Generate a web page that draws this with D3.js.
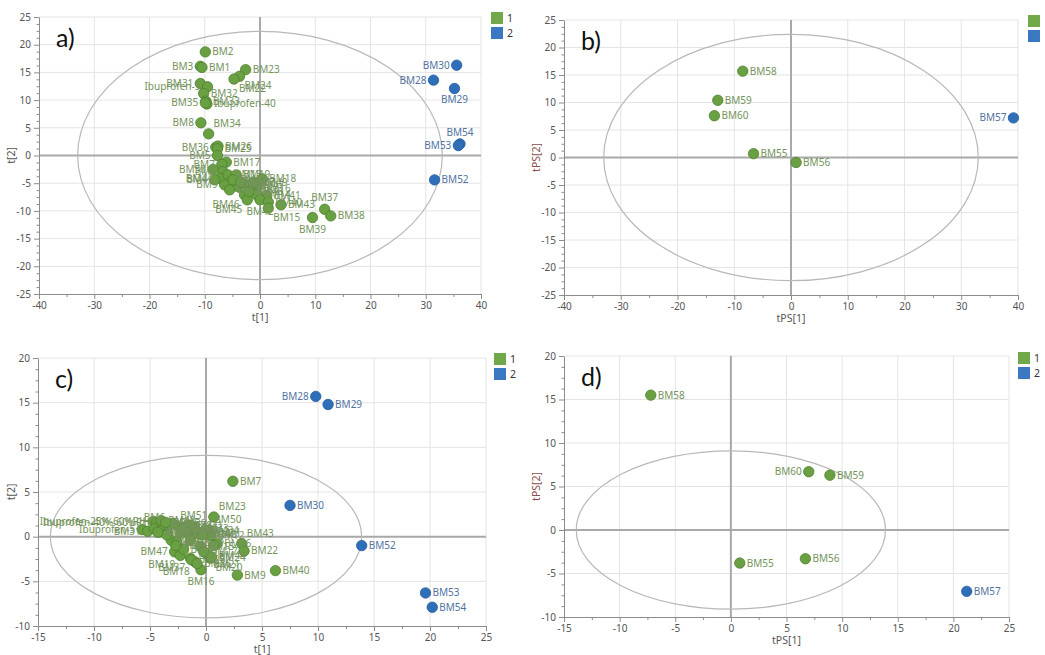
<!DOCTYPE html>
<html>
<head>
<meta charset="utf-8">
<script src="https://cdn.jsdelivr.net/npm/d3@7"></script>
<style>
body { margin: 0; background: #fff; }
svg { font-family: "Noto Sans", "Open Sans", sans-serif; }
</style>
</head>
<body>
<svg id="chart" width="1045" height="655"></svg>
<script>
// score values: [name, t1, t2, class]
const scoresA = [
    ["BM2", -9.9, 18.7, 1], ["BM3", -10.8, 16.1, 1], ["BM1", -10.5, 15.9, 1],
    ["BM23", -2.6, 15.5, 1], ["BM24", -3.7, 14.3, 1], ["BM22", -4.7, 13.8, 1],
    ["BM31", -10.8, 13.0, 1], ["Ibuprofen-5", -9.5, 12.4, 1], ["BM32", -10.2, 11.2, 1],
    ["BM33", -9.8, 9.8, 1], ["Ibuprofen-40", -9.6, 9.3, 1], ["BM35", -9.9, 9.5, 1],
    ["BM8", -10.7, 5.9, 1], ["BM34", -9.3, 3.9, 1], ["BM36", -8.0, 1.5, 1],
    ["BM26", -7.6, 1.7, 1], ["BM25", -7.7, 1.2, 1], ["BM5", -7.7, 0.0, 1],
    ["BM17", -6.1, -1.2, 1], ["BM7", -6.9, -1.6, 1], ["BM6", -6.7, -2.9, 1],
    ["BM44", -7.3, -4.1, 1], ["BM4", -8.2, -4.4, 1], ["BM13", -5.8, -3.5, 1],
    ["BM10", -5.2, -4.7, 1], ["BM19", -4.3, -3.5, 1], ["BM12", -4.0, -5.6, 1],
    ["BM11", -3.1, -5.0, 1], ["BM46", -2.8, -7.1, 1], ["BM45", -2.3, -8.0, 1],
    ["BM16", -0.6, -5.9, 1], ["BM18", 0.4, -4.2, 1], ["BM14", -0.6, -7.1, 1],
    ["BM41", 1.2, -7.2, 1], ["BM42", 0.0, -8.0, 1], ["BM40", 1.5, -8.4, 1],
    ["BM15", 1.5, -9.5, 1], ["BM43", 3.8, -8.9, 1], ["BM39", 9.5, -11.2, 1],
    ["BM37", 11.7, -9.7, 1], ["BM38", 12.8, -10.9, 1], ["BM9", -6.4, -5.3, 1],
    ["BM20", -5.5, -6.2, 1], ["BM21", -4.9, -4.4, 1], ["BM27", -3.5, -4.8, 1],
    ["BM47", -1.8, -5.4, 1], ["BM48", -2.0, -6.5, 1], ["BM49", -1.2, -4.8, 1],
    ["BM50", -8.5, -2.5, 1],
    ["BM30", 35.6, 16.3, 2], ["BM28", 31.4, 13.6, 2], ["BM29", 35.2, 12.1, 2],
    ["BM54", 36.2, 2.1, 2], ["BM53", 35.9, 1.8, 2], ["BM52", 31.6, -4.4, 2]
];

const scoresB = [
    ["BM58", -8.5, 15.7, 1], ["BM59", -12.9, 10.4, 1], ["BM60", -13.5, 7.6, 1],
    ["BM55", -6.6, 0.7, 1], ["BM56", 0.9, -0.9, 1], ["BM57", 39.2, 7.2, 2]
];

const scoresC = [
    ["BM7", 2.4, 6.2, 1], ["BM23", 0.7, 2.2, 1], ["BM43", 3.2, -0.8, 1],
    ["BM22", 3.4, -1.6, 1], ["BM40", 6.2, -3.8, 1], ["BM9", 2.8, -4.3, 1],
    ["Ibuprofen-25%-60%RH", -4.7, 1.7, 1], ["Ibuprofen-40%-60%RH", -4.4, 1.6, 1],
    ["Ibuprofen-5", -5.7, 0.8, 1], ["BM31", -5.2, 0.6, 1], ["BM6", -4.6, 0.9, 1],
    ["BM51", -1.1, 1.1, 1], ["BM50", 0.3, 0.7, 1], ["BM11", 0.1, 0.5, 1],
    ["BM12", 0.4, 0.1, 1], ["BM36", 1.0, -0.8, 1], ["BM44", 0.7, -1.0, 1],
    ["BM47", -2.8, -1.7, 1], ["BM19", -2.3, -2.1, 1], ["BM37", -1.4, -2.4, 1],
    ["BM18", -1.0, -2.8, 1], ["BM16", -0.45, -3.7, 1], ["BM21", 0.2, -2.1, 1],
    ["BM20", 0.4, -2.4, 1],
    ["BM1", -4.1, 0.55, 1], ["BM2", -3.8, 1.3, 1], ["BM3", -3.4, 0.4, 1],
    ["BM4", -3.1, -0.4, 1], ["BM5", -2.6, -0.6, 1], ["BM8", -2.2, 0.4, 1],
    ["BM10", -1.7, 0.55, 1], ["BM13", -1.4, -0.4, 1], ["BM14", -0.8, 0.4, 1],
    ["BM15", -0.5, -1.1, 1], ["BM17", -0.2, -1.7, 1], ["BM24", 0.5, -2.3, 1],
    ["BM25", -1.3, -2.6, 1], ["BM26", -0.8, -3.0, 1], ["BM27", -3.5, 0.2, 1],
    ["BM32", -4.3, 0.5, 1], ["BM33", -1.0, 0.9, 1], ["BM34", -0.1, 0.7, 1],
    ["BM35", -2.0, -1.4, 1], ["BM38", -2.5, 1.2, 1], ["BM39", -3.0, 1.5, 1],
    ["BM41", -1.5, 1.3, 1], ["BM42", -4.0, 1.8, 1], ["BM45", -3.6, 1.6, 1],
    ["BM46", -2.0, 0.9, 1], ["BM48", -0.3, 0.2, 1], ["BM49", -2.7, -1.0, 1],
    ["BM28", 9.8, 15.7, 2], ["BM29", 10.9, 14.8, 2], ["BM30", 7.5, 3.5, 2],
    ["BM52", 13.9, -1.0, 2], ["BM53", 19.6, -6.3, 2], ["BM54", 20.2, -7.9, 2]
];

const scoresD = [
    ["BM58", -7.2, 15.5, 1], ["BM60", 7.0, 6.7, 1], ["BM59", 8.9, 6.3, 1],
    ["BM55", 0.8, -3.8, 1], ["BM56", 6.7, -3.3, 1], ["BM57", 21.2, -7.05, 2]
];

// axis ticks
const ticksWide = [-40, -30, -20, -10, 0, 10, 20, 30, 40];
const ticksWideY = [-25, -20, -15, -10, -5, 0, 5, 10, 15, 20, 25];
const ticksNarrow = [-15, -10, -5, 0, 5, 10, 15, 20, 25];
const ticksNarrowY = [-10, -5, 0, 5, 10, 15, 20];

// Hotelling T2 ellipse semi-axes
const ellipseAB = [33, 22.4];
const ellipseCD = [13.9, 9.1];

const classes = ["1", "2"];

// where the label goes, relative to its point (default: right)
const sidesA = { BM3: "l", BM31: "l", "Ibuprofen-5": "l", BM35: "l", BM8: "l", BM36: "l",
    BM5: "l", BM44: "l", BM4: "l", BM9: "l", BM50: "l", BM6: "l", BM7: "l", BM34: "tr",
    BM24: "br", BM22: "br", BM15: "br", BM39: "b", BM37: "t", BM45: "bl", BM46: "bl",
    BM42: "b", BM30: "l", BM28: "l", BM29: "b", BM54: "t", BM53: "l" };
const sidesB = { BM57: "l" };
const sidesC = { BM28: "l", BM23: "tr", BM43: "tr", BM6: "t", BM51: "t", BM47: "l",
    BM19: "bl", BM37: "bl", BM18: "bl", BM16: "b", BM21: "br", BM20: "br", BM44: "br",
    "Ibuprofen-25%-60%RH": "l", "Ibuprofen-40%-60%RH": "l", "Ibuprofen-5": "l", BM31: "l",
    BM50: "tr" };
const sidesD = { BM60: "l" };

const offsets = {
    r: [7, 3.5, "start"], l: [-7, 3.5, "end"], t: [0, -8, "middle"], b: [0, 15, "middle"],
    tr: [5, -7, "start"], br: [5, 13, "start"], bl: [-5, 13, "end"]
};

const dotFill = { 1: "#69a041", 2: "#2f6fba" };
const dotStroke = { 1: "#4f8030", 2: "#215a9c" };
const labelColor = { 1: "#74935c", 2: "#52739f" };
const legendFill = ["#70a84a", "#3a78c2"];

const svg = d3.select("#chart");

function drawPanel(p) {
    const x = d3.scaleLinear().domain(d3.extent(p.xTicks)).range([p.left, p.right]);
    const y = d3.scaleLinear().domain(d3.extent(p.yTicks)).range([p.bottom, p.top]);
    const g = svg.append("g");

    // grid
    g.append("g").selectAll("line").data(p.xTicks.slice(1)).join("line")
        .attr("x1", d => x(d)).attr("x2", d => x(d))
        .attr("y1", p.top).attr("y2", p.bottom)
        .attr("stroke", "#e4e4e4");
    g.append("g").selectAll("line").data(p.yTicks.slice(1)).join("line")
        .attr("y1", d => y(d)).attr("y2", d => y(d))
        .attr("x1", p.left).attr("x2", p.right)
        .attr("stroke", "#e4e4e4");

    // zero lines
    g.append("line").attr("x1", p.left).attr("x2", p.right)
        .attr("y1", y(0)).attr("y2", y(0))
        .attr("stroke", "#a9a9a9").attr("stroke-width", 2);
    g.append("line").attr("x1", x(0)).attr("x2", x(0))
        .attr("y1", p.top).attr("y2", p.bottom)
        .attr("stroke", "#a9a9a9").attr("stroke-width", 2);

    // ellipse
    g.append("ellipse")
        .attr("cx", x(0)).attr("cy", y(0))
        .attr("rx", x(p.ellipse[0]) - x(0))
        .attr("ry", y(0) - y(p.ellipse[1]))
        .attr("fill", "none").attr("stroke", "#b8b8b8").attr("stroke-width", 1.2);

    // axes, with minor ticks in between
    const stepX = p.xTicks[1] - p.xTicks[0];
    const stepY = p.yTicks[1] - p.yTicks[0];
    const minorX = p.xTicks.slice(1).map(d => d - stepX / 2);
    const minorY = [];
    p.yTicks.slice(1).forEach(d => { minorY.push(d - stepY / 4, d - stepY / 2, d - 3 * stepY / 4); });
    const plain = d => String(d);   // hyphen minus, like the original software

    const xg = g.append("g").attr("transform", `translate(0,${p.bottom})`)
        .call(d3.axisBottom(x).tickValues(p.xTicks).tickFormat(plain)
            .tickSize(5).tickSizeOuter(0).tickPadding(3));
    g.append("g").attr("transform", `translate(0,${p.bottom})`)
        .call(d3.axisBottom(x).tickValues(minorX).tickSize(3).tickSizeOuter(0).tickFormat(""))
        .select(".domain").remove();
    const yg = g.append("g").attr("transform", `translate(${p.left},0)`)
        .call(d3.axisLeft(y).tickValues(p.yTicks).tickFormat(plain)
            .tickSize(5).tickSizeOuter(0).tickPadding(3));
    g.append("g").attr("transform", `translate(${p.left},0)`)
        .call(d3.axisLeft(y).tickValues(minorY).tickSize(2.5).tickSizeOuter(0).tickFormat(""))
        .select(".domain").remove();

    g.selectAll(".domain").attr("stroke", "#8c8c8c");
    g.selectAll(".tick line").attr("stroke", "#8c8c8c");
    [xg, yg].forEach(a => a.selectAll("text")
        .attr("fill", "#555").attr("font-size", 10)
        .attr("font-family", '"Noto Sans", sans-serif'));

    // axis titles
    g.append("text").attr("x", (p.left + p.right) / 2).attr("y", p.bottom + 27)
        .attr("text-anchor", "middle").attr("font-size", 10.5).attr("fill", "#555")
        .text(p.xLabel);
    g.append("text")
        .attr("transform", `translate(${p.yLabelX},${(p.top + p.bottom) / 2}) rotate(-90)`)
        .attr("text-anchor", "middle").attr("font-size", 10.5).attr("fill", p.yLabelColor)
        .text(p.yLabel);

    // panel letter
    g.append("text").attr("x", p.left + 17).attr("y", p.top + 30)
        .attr("font-family", "Lato, 'Open Sans', sans-serif").attr("font-size", 25)
        .attr("fill", "#111").text(p.letter);

    // points
    g.append("g").selectAll("circle").data(p.scores).join("circle")
        .attr("cx", d => x(d[1])).attr("cy", d => y(d[2])).attr("r", 5.2)
        .attr("fill", d => dotFill[d[3]]).attr("stroke", d => dotStroke[d[3]])
        .attr("stroke-width", 0.8);

    // labels
    g.append("g").selectAll("text").data(p.scores).join("text")
        .each(function(d) {
            const o = offsets[p.sides[d[0]] || "r"];
            d3.select(this)
                .attr("x", x(d[1]) + o[0]).attr("y", y(d[2]) + o[1])
                .attr("text-anchor", o[2]);
        })
        .attr("font-size", 10).attr("fill", d => labelColor[d[3]])
        .text(d => d[0]);

    // legend (panel b's is cropped at the right edge, as in the figure)
    const lg = g.append("g").attr("transform", `translate(${p.legend[0]},${p.legend[1]})`);
    classes.forEach((c, i) => {
        lg.append("rect").attr("x", 0).attr("y", i * 15).attr("width", 12).attr("height", 12)
            .attr("fill", legendFill[i]);
        if (p.legendText) {
            lg.append("text").attr("x", 16).attr("y", i * 15 + 10)
                .attr("font-size", 10.5).attr("fill", "#333").text(c);
        }
    });
}

drawPanel({ letter: "a)", scores: scoresA, sides: sidesA, xTicks: ticksWide, yTicks: ticksWideY,
    ellipse: ellipseAB, left: 39, right: 481, top: 17, bottom: 294,
    xLabel: "t[1]", yLabel: "t[2]", yLabelX: 15, yLabelColor: "#555",
    legend: [491, 12], legendText: true });
drawPanel({ letter: "b)", scores: scoresB, sides: sidesB, xTicks: ticksWide, yTicks: ticksWideY,
    ellipse: ellipseAB, left: 564, right: 1018, top: 20, bottom: 295,
    xLabel: "tPS[1]", yLabel: "tPS[2]", yLabelX: 540, yLabelColor: "#8a4f4f",
    legend: [1028, 15], legendText: false });
drawPanel({ letter: "c)", scores: scoresC, sides: sidesC, xTicks: ticksNarrow, yTicks: ticksNarrowY,
    ellipse: ellipseCD, left: 38, right: 486, top: 358, bottom: 626,
    xLabel: "t[1]", yLabel: "t[2]", yLabelX: 15, yLabelColor: "#555",
    legend: [494, 353], legendText: true });
drawPanel({ letter: "d)", scores: scoresD, sides: sidesD, xTicks: ticksNarrow, yTicks: ticksNarrowY,
    ellipse: ellipseCD, left: 564, right: 1009, top: 356, bottom: 617,
    xLabel: "tPS[1]", yLabel: "tPS[2]", yLabelX: 540, yLabelColor: "#8a4f4f",
    legend: [1018, 352], legendText: true });
</script>
</body>
</html>
